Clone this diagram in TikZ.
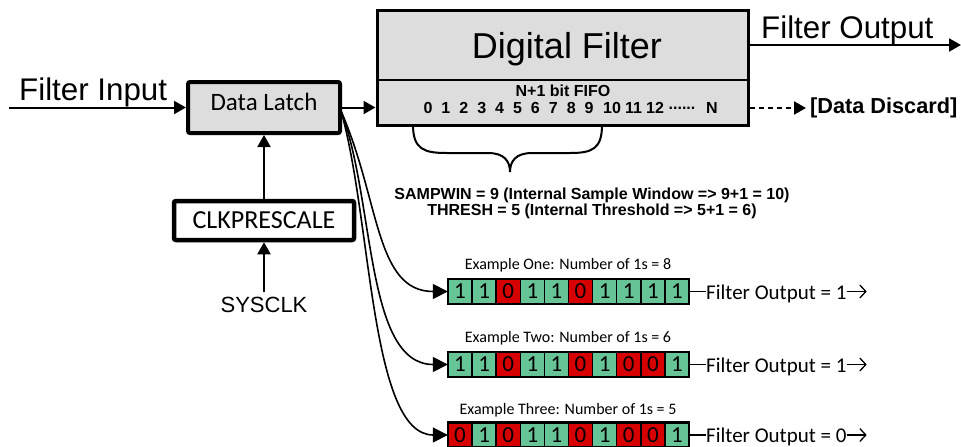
\documentclass[tikz,border=0pt]{standalone}
\usepackage{fontspec}
\setmainfont{Liberation Sans}
\newfontfamily\calibri{Carlito}
\usetikzlibrary{arrows.meta}
\definecolor{boxgray}{RGB}{221,221,221}
\definecolor{cellgreen}{RGB}{102,196,150}
\definecolor{cellred}{RGB}{214,0,0}
\newcommand\setfs[1]{\fontsize{#1}{#1}\selectfont}
\newcommand\cellrow[3]{%
  \node[rowbox] (#1) at (568.5,#2) {};
  \foreach \b [count=\k from 0] in {#3} {
    \edef\cellcol{\ifnum\b=1 cellgreen\else cellred\fi}
    \node[cell, fill=\cellcol] (#1c\k) at (448+24.1*\k+12.05,#2) {\b};
  }
  \draw[line width=2.5pt] (#1.north west) rectangle (#1.south east);
}
\begin{document}
\begin{tikzpicture}[x=1pt,y=-1pt,
  arr/.style={line width=2pt,-{Triangle[length=12pt,width=13pt]}},
  curvearr/.style={line width=1.6pt,-{Triangle[length=15pt,width=15pt]}},
  latchbox/.style={draw,line width=4pt,fill=boxgray,rounded corners=2pt,minimum width=152pt,minimum height=51pt,inner sep=0pt},
  clkbox/.style={draw,line width=4.5pt,fill=white,rounded corners=2pt,minimum width=180pt,minimum height=39pt,inner sep=0pt,font=\calibri\setfs{26}},
  filtbox/.style={draw,line width=3pt,fill=boxgray,minimum width=371pt,minimum height=115pt,inner sep=0pt},
  bitnum/.style={font=\bfseries\setfs{16},inner sep=0pt},
  rowbox/.style={minimum width=241pt,minimum height=25pt,inner sep=0pt},
  cell/.style={draw,line width=1.5pt,minimum width=24.1pt,minimum height=25pt,inner sep=0pt,font=\calibri\setfs{23}},
  exlbl/.style={font=\calibri\setfs{16},inner sep=0pt},
  outtxt/.style={font=\calibri\setfs{21},inner sep=0pt,anchor=base west},
  outarr/.style={line width=1.3pt,-{Straight Barb[length=6pt,width=13pt]}}
]
\useasboundingbox (0,0) rectangle (961,447);

% Digital filter
\node[filtbox] (filt) at (562.5,67.5) {};
\draw[line width=2pt] (filt.west |- 0,80) -- (filt.east |- 0,80);
\node[font=\setfs{36},anchor=base,inner sep=0pt] (dftxt) at (567,58) {Digital Filter};
\node[bitnum] (fifo) at (563,91) {N+1 bit FIFO};
\foreach \n [count=\k from 0] in {0,...,9}
  \node[bitnum] (b\n) at (428+17.9*\k,108) {\n};
\node[bitnum] (b10) at (612,108) {10};
\node[bitnum] (b11) at (633.5,108) {11};
\node[bitnum] (b12) at (655,108) {12};
\node[bitnum] (bdots) at (682,108) {......};
\node[bitnum] (bN) at (712,108) {N};

% Data latch
\node[latchbox] (latch) at (264,107.5) {};
\node[font=\calibri\setfs{25},inner sep=0pt] (latchtxt) at (264,101.5) {Data Latch};

% Input
\node[font=\setfs{31.3},anchor=base west,inner sep=0pt] (intxt) at (19,100) {Filter Input};
\coordinate (inStart) at (9,107.5);
\draw[arr] (inStart) -- (latch.west);
\draw[arr] (latch.east) -- (filt.west |- latch.east);

% Output
\node[font=\setfs{31.3},anchor=base west,inner sep=0pt] (outtxt) at (761,38) {Filter Output};
\coordinate (outEnd) at (961,45);
\draw[arr] (filt.east |- outEnd) -- (outEnd);

% Data discard
\node[font=\bfseries\setfs{21.7},anchor=west,inner sep=0pt] (discard) at (810,108) {[Data Discard]};
\draw[line width=2pt,dash pattern=on 5pt off 4pt,-{Triangle[length=12pt,width=13pt]}] (filt.east |- discard.west) -- ([xshift=-4pt]discard.west);

% Clock
\node[clkbox] (clk) at (264,220.5) {CLKPRESCALE};
\draw[arr] (clk.north) -- (latch.south);
\node[font=\setfs{22},inner sep=0pt] (sys) at (264,304.5) {SYSCLK};
\coordinate (sysTop) at (264,292);
\draw[arr] (sysTop) -- (clk.south);

% Brace
\draw[line width=2pt] (413,125) .. controls (413,150) and (425,153) .. (447,153) -- (488,153)
  .. controls (504,153) and (510,161) .. (510,172)
  .. controls (510,161) and (516,153) .. (532,153) -- (570,153)
  .. controls (592,153) and (602,149) .. (602,125);
\node[align=center,font=\bfseries\setfs{16},inner sep=0pt] (samp) at (592,203.5)
  {\fontsize{16}{17.5}\selectfont SAMPWIN = 9 (Internal Sample Window => 9+1 = 10)\\
   THRESH = 5 (Internal Threshold => 5+1 = 6)};

% Examples
\node[exlbl] (e1) at (568,265) {Example One: Number of 1s = 8};
\node[exlbl] (e2) at (568,338) {Example Two: Number of 1s = 6};
\node[exlbl] (e3) at (568,410) {Example Three: Number of 1s = 5};
\cellrow{rowa}{291.5}{1,1,0,1,1,0,1,1,1,1}
\cellrow{rowb}{364.5}{1,1,0,1,1,0,1,0,0,1}
\cellrow{rowc}{435}{0,1,0,1,1,0,1,0,0,1}

\coordinate (fan) at (341,111);
\draw[curvearr] (fan) .. controls (380,200) and (375,291.5) .. (rowa.west);
\draw[curvearr] (fan) .. controls (375,200) and (365,364.5) .. (rowb.west);
\draw[curvearr] (fan) .. controls (372,220) and (370,435) .. (rowc.west);

\node[outtxt] (oa) at (706,299) {Filter Output = 1};
\node[outtxt] (ob) at (706,372) {Filter Output = 1};
\node[outtxt] (oc) at (706,442.5) {Filter Output = 0};
\foreach \r/\o in {rowa/oa,rowb/ob,rowc/oc} {
  \draw[line width=1.3pt] (\r.east) -- (\o.west |- \r.east);
  \coordinate (\o end) at ([xshift=20pt]\o.east |- \r.east);
  \draw[outarr] (\o.east |- \r.east) -- (\o end);
}
\end{tikzpicture}
\end{document}
